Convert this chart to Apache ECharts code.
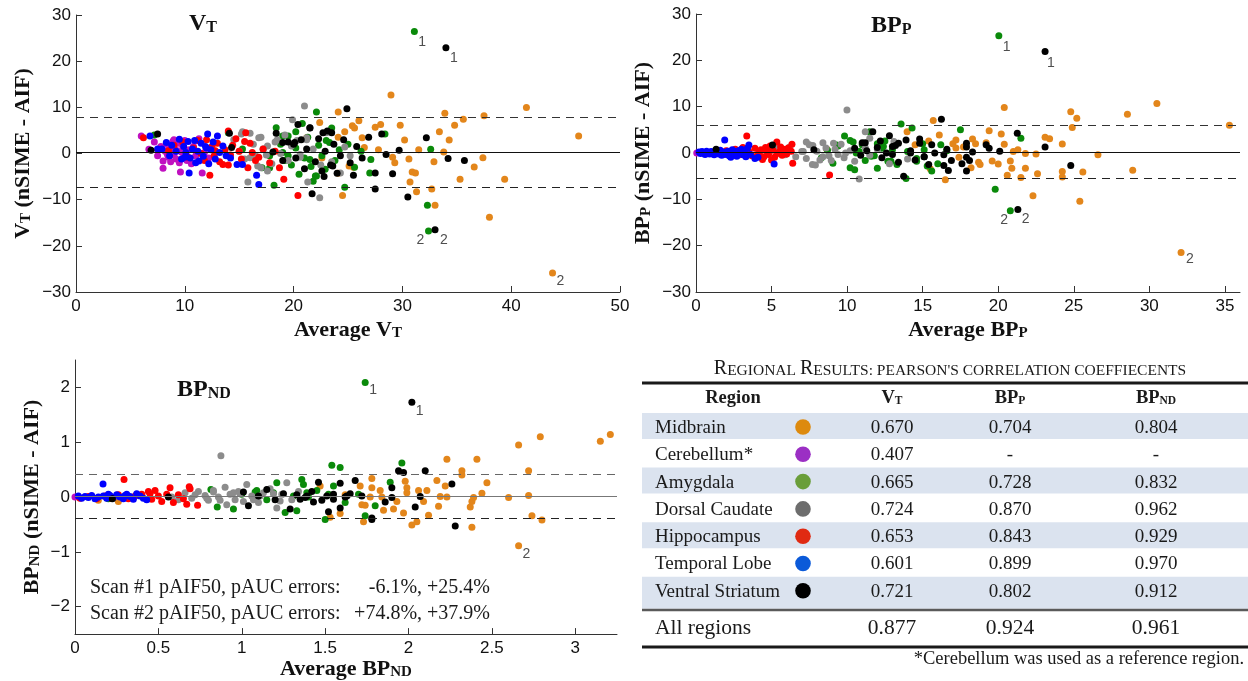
<!DOCTYPE html>
<html>
<head>
<meta charset="utf-8">
<title>nSIME vs AIF</title>
<script src="https://cdn.jsdelivr.net/npm/echarts@6/dist/echarts.min.js"></script>
<style>
  html, body { margin: 0; padding: 0; background: #fff; }
  #main { width: 1248px; height: 681px; }
</style>
</head>
<body>
<div id="main"></div>
<script>
// Bland-Altman: nSIME - AIF against the average, per region.
// Points are [average, difference].

// ---- V_T panel ----
const vtMid = [[21.2,3.4],[22.4,6.7],[22.6,-1.0],[24.1,9.0],[24.1,3.5],[24.1,-4.3],[24.5,-9.1],[24.7,4.7],[25.1,-2.7],[25.4,6.0],[25.5,-3.0],[25.6,5.5],[26.0,7.1],[26.3,3.4],[26.5,1.3],[27.5,5.7],[27.8,0.8],[28.0,6.3],[28.95,12.65],[29.1,-0.8],[29.3,-2.0],[29.8,6.1],[30.2,2.9],[30.6,-1.2],[30.7,-6.2],[30.9,-4.0],[31.2,-4.2],[31.3,-8.3],[31.5,0.8],[32.7,-7.7],[32.9,-1.8],[33.0,-11.2],[33.4,4.7],[33.8,0.3],[33.9,8.7],[34.3,2.9],[34.8,6.1],[35.3,-5.6],[35.6,7.4],[36.6,-2.9],[37.4,-0.9],[37.5,8.15],[38.0,-13.8],[39.4,-5.6],[41.4,9.96],[46.2,3.8],[43.8,-25.9]];
const vtCer = [[6.0,3.8],[6.7,0.9],[7.2,2.5],[7.5,-0.5],[7.8,1.5],[8.0,-1.6],[8.0,-3.2],[8.2,0.5],[8.3,2.0],[8.5,-0.8],[8.6,1.2],[8.7,-1.8],[8.8,0.2],[8.9,2.6],[9.0,-0.3],[9.1,1.0],[9.2,-1.2],[9.3,0.6],[9.4,2.2],[9.5,-2.0],[9.6,-4.0],[9.7,0.3],[9.8,1.6],[9.9,-0.8],[10.0,2.8],[10.2,-1.5],[10.4,0.8],[10.6,-2.2],[10.8,1.5],[11.0,-0.5],[11.3,3.2],[11.6,-4.2],[11.8,0.2],[12.2,-1.0],[8.4,-0.2],[9.0,3.0]];
const vtAmy = [[7.2,4.0],[14.0,4.5],[15.3,1.0],[17.1,-3.1],[17.8,-0.5],[18.2,-6.9],[18.4,5.6],[18.8,2.0],[19.2,-1.5],[19.5,3.8],[19.8,-2.5],[20.2,1.2],[20.5,-4.5],[20.8,6.5],[21.0,-1.0],[21.3,3.5],[21.6,-2.8],[22.0,-4.9],[22.1,9.0],[22.3,1.8],[22.6,-0.5],[23.0,2.8],[23.5,5.5],[23.8,-1.5],[24.2,0.8],[24.7,-7.3],[25.0,2.0],[25.6,-3.0],[26.2,0.5],[27.0,-4.2],[27.1,-1.3],[28.4,4.2],[32.3,-11.2],[32.6,0.9],[31.1,26.4],[32.4,-16.8],[19.0,0.2],[21.8,-6.0],[17.8,-3.1],[19.0,3.8],[19.5,-0.5],[20.2,4.7],[21.5,-1.3],[22.1,-4.9],[22.9,-3.4],[23.3,2.4]];
const vtDor = [[14.5,3.0],[15.0,0.5],[15.2,4.2],[15.5,-1.2],[15.8,-6.2],[16.0,4.4],[16.3,2.0],[16.5,-0.5],[16.7,-2.7],[17.0,3.5],[17.2,1.0],[17.6,-3.8],[18.0,-2.2],[18.3,2.5],[18.8,0.0],[19.2,4.0],[19.5,-1.5],[19.9,7.3],[20.3,2.8],[20.6,-0.8],[21.0,10.3],[21.2,3.4],[21.3,-6.2],[21.8,1.0],[22.4,-9.6],[22.5,-2.5],[23.0,4.5],[23.5,-1.8],[24.3,-4.2],[24.7,1.4],[25.2,-0.5],[17.5,-0.3],[18.5,3.0],[15.3,4.7],[16.8,3.4],[16.0,-0.9],[17.2,0.9],[17.6,1.6],[17.0,-3.1],[19.8,1.6],[21.2,3.0],[20.6,-0.2]];
const vtHip = [[6.2,3.4],[8.5,0.6],[9.0,1.8],[9.8,2.5],[10.3,-0.8],[10.8,1.2],[11.2,2.8],[11.5,0.0],[11.8,-1.5],[12.0,3.0],[12.3,-4.7],[12.5,1.5],[12.7,-0.5],[13.0,2.2],[13.2,-1.8],[13.5,-2.4],[13.7,0.8],[14.0,4.9],[14.2,-0.3],[14.4,1.8],[14.7,3.2],[15.0,0.5],[15.2,-1.2],[15.5,2.6],[15.8,-3.1],[16.0,2.2],[16.2,0.2],[16.5,-1.5],[16.8,-0.8],[17.2,1.0],[17.8,-2.0],[18.3,0.5],[18.7,-3.1],[19.1,-5.6],[20.4,-9.1],[14.0,-2.5],[12.8,0.6],[15.6,4.5]];
const vtTem = [[6.8,3.8],[7.5,1.0],[7.9,1.0],[8.3,2.4],[8.6,-0.5],[8.8,1.8],[9.2,0.5],[9.5,3.1],[9.7,-1.2],[9.9,1.5],[10.1,0.2],[10.3,2.6],[10.4,-4.2],[10.5,-1.0],[10.7,1.0],[10.9,2.8],[11.0,-2.0],[11.2,0.5],[11.3,-1.6],[11.5,2.2],[11.7,-0.6],[11.9,1.5],[12.1,4.2],[12.2,-2.2],[12.4,0.8],[12.6,2.5],[12.8,-1.2],[13.0,3.8],[13.2,0.2],[13.5,1.6],[13.8,-0.5],[14.2,-1.0],[14.8,-2.4],[15.3,-2.4],[16.6,-4.7],[16.8,-6.7],[12.0,1.2],[10.0,-0.8]];
const vtVen = [[6.9,0.7],[7.5,4.2],[14.1,4.4],[14.3,1.3],[18.1,0.3],[18.4,4.4],[19.0,-1.5],[19.5,2.5],[20.2,-1.0],[20.4,6.3],[20.7,3.0],[21.0,-3.3],[21.2,1.0],[21.5,5.5],[21.7,-8.7],[22.0,-1.8],[22.3,3.2],[22.6,-3.8],[22.9,0.5],[23.1,4.9],[23.4,-2.5],[23.7,2.0],[24.0,-4.3],[24.3,-0.5],[24.6,3.0],[24.9,9.7],[25.2,-2.0],[25.5,-4.7],[25.8,1.5],[26.3,-1.0],[26.9,3.5],[27.5,-7.7],[27.5,-4.2],[28.1,4.2],[28.5,-0.2],[29.1,-4.4],[29.7,0.7],[30.5,-9.4],[32.2,3.4],[34.2,-1.1],[35.7,-1.5],[34.0,22.9],[33.0,-16.5],[20.0,2.0],[22.8,-5.0],[19.0,2.4],[20.1,2.4],[21.5,5.6],[22.7,4.5],[23.6,-2.7],[23.5,4.5]];
const vtLines = [0.3, 7.9, -7.3]; // mean, upper, lower
const vtNotes = [[31.1,26.4,'1'],[34.0,22.9,'1'],[32.4,-16.8,'2'],[33.0,-16.5,'2'],[43.8,-25.9,'2']];

// ---- BP_P panel ----
const bppMid = [[8.66,0.8],[13.97,4.6],[14.5,1.8],[15.4,2.6],[15.5,-3.4],[15.7,7.0],[16.1,3.9],[16.5,-5.8],[17.0,2.0],[17.2,2.8],[17.2,1.1],[17.4,-0.9],[17.7,1.3],[18.2,-3.2],[18.3,3.0],[18.5,2.0],[18.7,-2.0],[18.8,-2.5],[19.2,2.2],[19.4,4.8],[19.6,-1.7],[20.0,-2.4],[20.2,4.1],[20.4,1.9],[20.4,9.8],[20.6,-4.8],[20.8,-1.7],[20.9,-3.3],[21.0,0.3],[21.3,0.7],[21.5,-5.3],[21.8,-0.1],[21.8,-3.3],[22.3,-9.2],[22.5,-0.2],[22.6,-4.5],[23.1,3.4],[23.4,3.1],[24.24,1.94],[24.24,-4.0],[24.24,-5.2],[24.8,8.9],[24.9,5.5],[25.2,7.5],[25.4,-10.4],[25.6,-4.1],[26.6,-0.4],[28.55,8.35],[28.9,-3.7],[30.5,10.7],[35.3,6.0],[32.1,-21.5]];
const bppCer = [[0.05,0.0]];
const bppAmy = [[8.3,-1.0],[8.7,0.6],[9.06,-2.2],[9.4,1.5],[9.83,3.67],[10.2,2.7],[10.2,-3.2],[10.5,-3.6],[10.8,0.3],[11.0,1.8],[11.2,-1.6],[11.5,4.6],[11.8,-0.6],[12.0,-3.3],[12.3,1.0],[12.5,2.6],[12.7,-1.8],[13.0,0.7],[13.3,-2.5],[13.57,6.26],[13.9,-5.5],[14.3,5.4],[14.6,-1.2],[15.0,2.0],[15.3,-2.8],[15.6,-3.9],[16.0,-2.3],[16.2,1.8],[16.6,0.5],[17.5,5.0],[19.8,-7.8],[21.5,3.2],[20.04,25.3],[20.8,-12.45],[12.0,2.0],[14.0,0.3],[9.3,1.7],[10.4,2.4],[10.6,0.0],[11.6,-0.7],[12.4,1.4],[12.9,-1.8],[14.6,-1.8],[15.1,0.7]];
const bppDor = [[5.3,1.0],[5.6,0.5],[5.9,-0.4],[6.2,1.3],[6.6,-0.8],[7.0,0.3],[7.3,-1.2],[7.5,1.8],[7.73,1.6],[7.7,-2.5],[8.0,0.4],[8.2,-1.5],[8.4,2.2],[8.6,1.1],[8.8,-0.6],[8.95,-1.6],[9.2,0.8],[9.4,-0.3],[9.6,1.9],[9.8,-1.0],[9.99,9.28],[10.2,0.5],[10.5,-1.8],[10.8,-5.6],[11.2,1.2],[11.5,-0.5],[12.0,0.8],[12.8,-2.3],[13.1,2.5],[14.0,-1.3],[7.1,0.3],[7.3,2.4],[7.9,-2.6],[8.4,-0.8],[9.1,2.1],[9.9,0.0],[11.2,4.6],[11.5,3.2]];
const bppHip = [[1.5,0.2],[1.8,-0.3],[2.0,0.5],[2.3,0.0],[2.6,0.8],[2.9,-0.4],[3.1,1.2],[3.36,3.67],[3.5,0.3],[3.7,-0.6],[3.9,1.0],[4.1,-0.2],[4.3,0.7],[4.4,-1.4],[4.5,-0.8],[4.6,1.2],[4.7,0.4],[4.8,-0.3],[4.9,1.5],[5.0,-1.5],[5.1,0.6],[5.2,-0.9],[5.35,2.4],[5.5,0.2],[5.6,1.3],[5.7,-0.5],[5.8,0.8],[6.0,-0.2],[6.1,1.1],[6.3,0.4],[6.35,1.9],[6.4,-2.2],[8.84,-4.75],[4.2,0.1],[5.4,-0.1]];
const bppTem = [[0.2,0.2],[0.3,-0.1],[0.4,0.3],[0.5,0.0],[0.6,-0.3],[0.7,0.4],[0.8,0.1],[0.9,-0.2],[1.0,0.3],[1.1,0.0],[1.2,-0.4],[1.3,0.5],[1.4,0.1],[1.5,-0.2],[1.6,0.6],[1.7,-0.5],[1.8,0.2],[1.9,2.8],[2.0,-0.3],[2.1,0.4],[2.2,-0.6],[2.3,0.1],[2.4,0.7],[2.5,-0.2],[2.6,0.3],[2.7,-0.7],[2.8,0.5],[2.9,-0.1],[3.0,0.8],[3.1,-0.4],[3.2,0.2],[3.3,-0.8],[3.4,1.0],[3.5,1.7],[3.6,-0.3],[3.9,-1.2],[4.1,-0.9],[5.17,-2.4],[1.5,0.3],[2.3,-0.9]];
const bppVen = [[1.33,0.8],[5.06,1.7],[7.8,0.7],[10.5,1.0],[10.9,-0.5],[11.2,2.2],[11.7,4.6],[12.0,1.2],[12.3,-1.0],[12.8,3.7],[13.0,-0.3],[13.2,1.6],[13.4,-2.0],[13.74,-5.0],[13.9,2.8],[14.2,0.5],[14.5,-1.5],[14.8,3.0],[15.1,-0.8],[15.4,-2.5],[15.6,1.8],[15.8,0.0],[16.24,7.3],[16.4,-2.7],[16.4,-0.4],[16.6,0.8],[16.7,-3.8],[16.9,-1.6],[17.6,-2.3],[17.9,2.1],[17.9,1.3],[17.9,-0.9],[17.9,-3.9],[18.1,-1.6],[18.3,0.2],[19.2,1.8],[19.4,1.0],[20.1,0.4],[21.26,4.25],[23.1,1.3],[24.8,-2.7],[23.1,21.9],[21.3,-12.2],[11.0,2.2],[11.3,0.5],[12.2,2.6],[12.6,0.0],[13.0,1.4],[13.4,2.1],[14.2,0.0],[14.8,2.1],[15.1,-0.8]];
const bppLines = [0.15, 6.0, -5.4];
const bppNotes = [[20.04,25.3,'1'],[23.1,21.9,'1'],[20.8,-12.45,'2'],[21.3,-12.2,'2'],[32.1,-21.5,'2']];

// ---- BP_ND panel ----
const bpndMid = [[0.14,-0.06],[0.26,-0.08],[1.47,0.2],[1.53,-0.37],[1.59,-0.3],[1.62,0.04],[1.71,0.2],[1.72,-0.14],[1.73,-0.45],[1.74,-0.15],[1.77,0.0],[1.78,0.17],[1.78,0.34],[1.83,0.12],[1.84,0.0],[1.85,-0.24],[1.91,-0.22],[1.93,-0.08],[1.97,-0.29],[1.98,0.29],[1.99,0.17],[1.99,0.08],[2.02,-0.51],[2.05,-0.45],[2.06,0.12],[2.09,-0.08],[2.11,0.12],[2.12,-0.33],[2.17,0.3],[2.18,-0.17],[2.19,0.01],[2.22,0.2],[2.23,0.69],[2.23,0.0],[2.32,0.48],[2.32,0.4],[2.37,-0.18],[2.38,-0.08],[2.38,-0.55],[2.39,-0.01],[2.41,0.69],[2.44,0.07],[2.47,0.26],[2.6,-0.01],[2.66,0.95],[2.72,0.48],[2.72,0.03],[2.74,-0.34],[2.8,-0.42],[2.79,1.1],[3.15,1.02],[3.21,1.14],[2.66,-0.89]];
const bpndCer = [[0.0,0.0]];
const bpndAmy = [[0.2,-0.03],[0.815,0.14],[0.853,-0.18],[0.95,-0.22],[1.0,0.05],[1.09,0.12],[1.15,-0.05],[1.21,0.26],[1.26,-0.28],[1.33,-0.25],[1.36,0.32],[1.37,0.23],[1.4,0.0],[1.45,0.12],[1.5,-0.41],[1.52,0.05],[1.54,0.58],[1.55,0.2],[1.59,0.54],[1.62,-0.1],[1.7,0.05],[1.74,-0.34],[1.8,-0.16],[1.89,0.27],[1.96,0.62],[1.74,2.09],[1.08,0.09],[1.19,0.08],[1.31,0.02],[1.39,0.08]];
const bpndDor = [[0.58,0.0],[0.62,-0.05],[0.66,0.08],[0.7,-0.02],[0.74,0.1],[0.78,0.03],[0.8,-0.06],[0.83,0.12],[0.86,0.0],[0.875,0.755],[0.9,0.18],[0.91,-0.14],[0.93,0.05],[0.96,-0.05],[0.98,0.1],[1.01,-0.08],[1.03,0.23],[1.06,0.02],[1.1,-0.1],[1.13,0.08],[1.17,0.15],[1.21,-0.2],[1.24,0.05],[1.27,0.26],[1.3,-0.05],[1.34,0.1],[0.72,0.04],[0.95,0.08],[0.79,-0.02],[0.83,0.09],[0.87,-0.06],[0.99,0.06],[1.07,-0.05],[1.11,0.02],[1.19,0.06],[1.23,-0.07]];
const bpndHip = [[0.03,-0.02],[0.08,0.01],[0.13,-0.03],[0.18,0.02],[0.22,-0.02],[0.26,0.04],[0.294,0.32],[0.32,-0.03],[0.36,0.02],[0.4,0.05],[0.44,0.1],[0.46,-0.04],[0.48,0.12],[0.5,0.02],[0.52,-0.08],[0.55,0.05],[0.57,0.17],[0.59,-0.1],[0.62,0.04],[0.65,-0.03],[0.67,-0.13],[0.685,0.19],[0.69,0.15],[0.735,-0.15],[0.45,0.06]];
const bpndTem = [[0.02,0.02],[0.04,-0.02],[0.06,0.01],[0.08,-0.01],[0.1,0.03],[0.12,-0.03],[0.14,0.0],[0.168,0.24],[0.17,0.02],[0.19,-0.02],[0.21,0.03],[0.23,-0.01],[0.25,0.04],[0.27,0.0],[0.29,-0.03],[0.31,0.05],[0.33,0.01],[0.35,-0.04],[0.37,0.06],[0.39,0.02],[0.41,-0.02],[0.43,-0.05],[0.3,0.03],[0.2,0.05]];
const bpndVen = [[0.224,-0.03],[0.56,0.0],[1.01,0.09],[1.04,-0.16],[1.1,0.02],[1.15,0.14],[1.2,-0.05],[1.25,0.06],[1.29,-0.22],[1.33,0.04],[1.38,-0.01],[1.42,0.1],[1.46,0.27],[1.48,-0.06],[1.52,-0.27],[1.55,0.05],[1.59,0.25],[1.59,-0.2],[1.62,0.0],[1.65,0.06],[1.68,0.3],[1.72,0.02],[1.78,-0.38],[1.78,-0.41],[1.86,-0.09],[1.9,0.17],[1.9,-0.01],[1.94,0.48],[1.97,0.45],[2.04,-0.18],[2.07,0.01],[2.1,0.48],[2.26,0.24],[2.28,-0.53],[2.02,1.73],[1.35,-0.04],[1.39,0.02],[1.43,-0.09],[1.51,0.02],[1.55,-0.04],[1.63,0.02]];
const bpndLines = [0.02, 0.42, -0.38];
const bpndNotes = [[1.74,2.09,'1'],[2.02,1.73,'1'],[2.66,-0.89,'2']];

// tick values
const vtXTicks = [0, 10, 20, 30, 40, 50];
const bppXTicks = [0, 5, 10, 15, 20, 25, 30, 35];
const bpndXTicks = [0, 0.5, 1, 1.5, 2, 2.5, 3];
const diffYTicks = [-30, -20, -10, 0, 10, 20, 30];
const bpndYTicks = [-2, -1, 0, 1, 2];

// scan error text in the BP_ND panel
const scanLabels = ['Scan #1 pAIF50, pAUC errors:', 'Scan #2 pAIF50, pAUC errors:'];
const scanErrors = ['-6.1%, +25.4%', '+74.8%, +37.9%'];

// table
const regionNames = ['Midbrain', 'Cerebellum*', 'Amygdala', 'Dorsal Caudate', 'Hippocampus', 'Temporal Lobe', 'Ventral Striatum'];
const corrVT = ['0.670', '0.407', '0.665', '0.724', '0.653', '0.601', '0.721'];
const corrBPP = ['0.704', '-', '0.728', '0.870', '0.843', '0.899', '0.802'];
const corrBPND = ['0.804', '-', '0.832', '0.962', '0.929', '0.970', '0.912'];
const corrAll = ['0.877', '0.924', '0.961'];

// plot colours (same order as regionNames) and the table swatches
const plotColors = ['#e3861b', '#c010c0', '#0a8a0a', '#8c8c8c', '#ff0000', '#0000ff', '#000000'];
const swatchColors = ['#dd8a0e', '#9b2fc4', '#6a9e3a', '#6d6d6d', '#e02a12', '#0b5ad9', '#000000'];

const SERIF = '"Liberation Serif", "DejaVu Serif", serif';
const SANS = '"Liberation Sans", Arial, sans-serif';

const chart = echarts.init(document.getElementById('main'), null, { renderer: 'canvas' });

const minus = v => String(v).replace('-', '\u2212');

function subRich(big, small) {
  return {
    b: { fontFamily: SERIF, fontWeight: 'bold', fontSize: big, color: '#111' },
    s: { fontFamily: SERIF, fontWeight: 'bold', fontSize: small, color: '#111', verticalAlign: 'bottom' },
  };
}

function xAxis(idx, max, ticks, name, gap) {
  return {
    gridIndex: idx, type: 'value', min: 0, max,
    name, nameLocation: 'middle', nameGap: gap,
    nameTextStyle: { rich: subRich(22, 15) },
    axisLine: { show: true, onZero: false, lineStyle: { color: '#333', width: 1 } },
    axisTick: { show: true, inside: true, length: 6, customValues: ticks, lineStyle: { color: '#333' } },
    axisLabel: { customValues: ticks, fontFamily: SANS, fontSize: 17, color: '#111', margin: 6, formatter: minus },
    splitLine: { show: false },
  };
}

function yAxis(idx, min, max, ticks, name, gap) {
  return {
    gridIndex: idx, type: 'value', min, max,
    name, nameLocation: 'middle', nameGap: gap, nameRotate: 90,
    nameTextStyle: { rich: subRich(22, 15) },
    axisLine: { show: true, onZero: false, lineStyle: { color: '#333', width: 1 } },
    axisTick: { show: true, inside: true, length: 6, customValues: ticks, lineStyle: { color: '#333' } },
    axisLabel: { customValues: ticks, fontFamily: SANS, fontSize: 17, color: '#111', margin: 5, formatter: minus },
    splitLine: { show: false },
  };
}

// label offsets for the outlier numbers (px from the point)
const noteOffsets = [
  [[4, 4], [4, 3], [-12, 2], [5, 3], [4, 1]],
  [[4, 4], [2, 5], [-10, 2], [4, 3], [5, 0]],
  [[4, 1], [4, 2], [4, 1]],
];

function panelSeries(idx, sets, lines, notes, meanColor, limColor) {
  const out = sets.map((pts, i) => ({
    type: 'scatter', xAxisIndex: idx, yAxisIndex: idx,
    data: pts, symbolSize: 7, silent: true,
    itemStyle: { color: plotColors[i], opacity: 1 },
    z: 3,
  }));
  // mean and limits of agreement
  out.push({
    type: 'scatter', xAxisIndex: idx, yAxisIndex: idx, data: [], silent: true, z: 4,
    markLine: {
      silent: true, symbol: 'none', animation: false,
      label: { show: false },
      data: [
        { yAxis: lines[0], lineStyle: { type: 'solid', color: meanColor, width: 1.2 } },
        { yAxis: lines[1], lineStyle: { type: [8, 6], color: limColor, width: 1.2 } },
        { yAxis: lines[2], lineStyle: { type: [8, 6], color: '#222', width: 1.2 } },
      ],
    },
  });
  out.push({
    type: 'scatter', xAxisIndex: idx, yAxisIndex: idx, silent: true, z: 5,
    symbolSize: 0,
    data: notes.map((n, k) => ({
      value: [n[0], n[1]],
      label: { show: true, formatter: n[2], position: noteOffsets[idx][k] },
    })),
    label: { fontFamily: SANS, fontSize: 14, color: '#222' },
  });
  return out;
}

// order in the arrays: Mid, Cer, Amy, Dor, Hip, Tem, Ven (matches plotColors)
const series = [].concat(
  panelSeries(0, [vtMid, vtCer, vtAmy, vtDor, vtHip, vtTem, vtVen], vtLines, vtNotes, '#111', '#333'),
  panelSeries(1, [bppMid, bppCer, bppAmy, bppDor, bppHip, bppTem, bppVen], bppLines, bppNotes, '#111', '#333'),
  panelSeries(2, [bpndMid, bpndCer, bpndAmy, bpndDor, bpndHip, bpndTem, bpndVen], bpndLines, bpndNotes, '#777', '#666'),
);

// ---- table as graphic elements ----
function txt(x, y, text, size, opts = {}) {
  return {
    type: 'text', x, y, silent: true,
    style: Object.assign({
      text, fontFamily: SERIF, fontSize: size, fill: '#1a1a1a',
      align: 'left', verticalAlign: 'middle', textAlign: 'left', textVerticalAlign: 'middle',
    }, opts),
  };
}

const tblLeft = 642, tblRight = 1248;
const colX = [892, 1010, 1156];
const rowY = regionNames.map((_, i) => 428 + i * 27.3);
const graphic = [];

// banded rows
rowY.forEach((y, i) => {
  if (i % 2 === 0) {
    graphic.push({ type: 'rect', silent: true, shape: { x: tblLeft, y: y - 15, width: tblRight - tblLeft, height: i === 6 ? 32 : 26 }, style: { fill: '#dbe3ef' } });
  }
});

graphic.push(txt(950, 369, '{c|R}{s|EGIONAL }{c|R}{s|ESULTS: PEARSON\'S CORRELATION COEFFIECENTS}', 20, {
  align: 'center', textAlign: 'center',
  rich: { c: { fontFamily: SERIF, fontSize: 20, fill: '#1a1a1a' }, s: { fontFamily: SERIF, fontSize: 15.5, fill: '#1a1a1a', verticalAlign: 'bottom' } },
}));
graphic.push({ type: 'line', silent: true, shape: { x1: tblLeft, y1: 383, x2: tblRight, y2: 383 }, style: { stroke: '#1a1a1a', lineWidth: 3 } });

const hdrRich = {
  b: { fontFamily: SERIF, fontWeight: 'bold', fontSize: 18.5, fill: '#1a1a1a' },
  s: { fontFamily: SERIF, fontWeight: 'bold', fontSize: 11.5, fill: '#1a1a1a', verticalAlign: 'bottom' },
};
graphic.push(txt(733, 398, '{b|Region}', 18.5, { align: 'center', textAlign: 'center', rich: hdrRich }));
graphic.push(txt(colX[0], 398, '{b|V}{s|T}', 18.5, { align: 'center', textAlign: 'center', rich: hdrRich }));
graphic.push(txt(colX[1], 398, '{b|BP}{s|P}', 18.5, { align: 'center', textAlign: 'center', rich: hdrRich }));
graphic.push(txt(colX[2], 398, '{b|BP}{s|ND}', 18.5, { align: 'center', textAlign: 'center', rich: hdrRich }));

regionNames.forEach((name, i) => {
  const y = rowY[i];
  graphic.push(txt(655, y, name, 19));
  graphic.push({ type: 'circle', silent: true, shape: { cx: 803, cy: y - 1, r: 7.8 }, style: { fill: swatchColors[i] } });
  [corrVT[i], corrBPP[i], corrBPND[i]].forEach((v, c) => {
    graphic.push(txt(colX[c], y, v, 19, { align: 'center', textAlign: 'center' }));
  });
});

graphic.push({ type: 'line', silent: true, shape: { x1: tblLeft, y1: 610, x2: tblRight, y2: 610 }, style: { stroke: '#5a5a5a', lineWidth: 2.5 } });
graphic.push(txt(655, 628, 'All regions', 21.5));
corrAll.forEach((v, c) => graphic.push(txt(colX[c], 628, v, 21.5, { align: 'center', textAlign: 'center' })));
graphic.push({ type: 'line', silent: true, shape: { x1: tblLeft, y1: 647, x2: tblRight, y2: 647 }, style: { stroke: '#1a1a1a', lineWidth: 3 } });
graphic.push(txt(1244, 659, '*Cerebellum was used as a reference region.', 18.5, { align: 'right', textAlign: 'right' }));

// scan error lines in the BP_ND panel
scanLabels.forEach((s, i) => {
  const y = 588 + i * 26;
  graphic.push(txt(90, y, s, 20));
  graphic.push(txt(490, y, scanErrors[i], 20, { align: 'right', textAlign: 'right' }));
});

const titleRich = (big, small) => ({
  b: { fontFamily: SERIF, fontWeight: 'bold', fontSize: big, color: '#111' },
  s: { fontFamily: SERIF, fontWeight: 'bold', fontSize: small, color: '#111', verticalAlign: 'bottom' },
});

chart.setOption({
  animation: false,
  backgroundColor: '#fff',
  title: [
    { text: '{b|V}{s|T}', left: 189, top: 12, padding: 0, textStyle: { rich: titleRich(24, 16) } },
    { text: '{b|BP}{s|P}', left: 871, top: 14, padding: 0, textStyle: { rich: titleRich(24, 16) } },
    { text: '{b|BP}{s|ND}', left: 177, top: 378, padding: 0, textStyle: { rich: titleRich(24, 16) } },
  ],
  grid: [
    { left: 76, top: 15, width: 544, height: 277 },
    { left: 696, top: 14, width: 544, height: 278 },
    { left: 75, top: 360, width: 542, height: 275 },
  ],
  xAxis: [
    xAxis(0, 50, vtXTicks, '{b|Average V}{s|T}', 27),
    xAxis(1, 36, bppXTicks, '{b|Average BP}{s|P}', 27),
    xAxis(2, 3.25, bpndXTicks, '{b|Average BP}{s|ND}', 22),
  ],
  yAxis: [
    yAxis(0, -30, 30, diffYTicks, '{b|V}{s|T}{b| (nSIME - AIF)}', 42),
    yAxis(1, -30, 30, diffYTicks, '{b|BP}{s|P}{b| (nSIME - AIF)}', 42),
    yAxis(2, -2.5, 2.5, bpndYTicks, '{b|BP}{s|ND}{b| (nSIME - AIF)}', 32),
  ],
  series,
  graphic,
});
</script>
</body>
</html>
